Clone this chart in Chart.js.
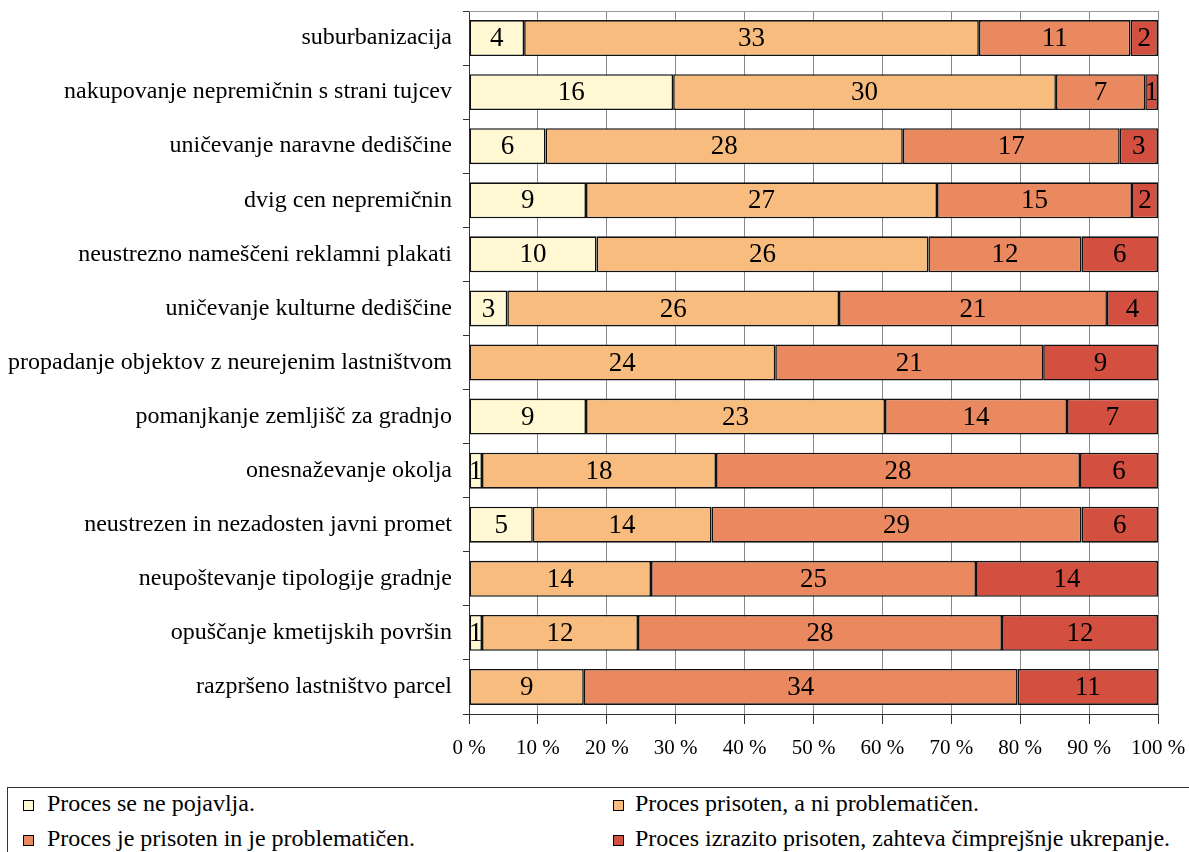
<!DOCTYPE html>
<html>
<head>
<meta charset="utf-8">
<script src="https://cdn.jsdelivr.net/npm/chart.js@4/dist/chart.umd.min.js"></script>
<style>
  html, body { margin: 0; padding: 0; background: #fff; }
  body { width: 1189px; height: 852px; position: relative; overflow: hidden;
         font-family: "Liberation Serif", "Times New Roman", serif; }
  #wrap { position: absolute; left: 0; top: 0; width: 1189px; height: 770px; }
  #legend { position: absolute; left: 7px; top: 787px; width: 1200px; height: 80px;
            border: 1px solid #333; box-sizing: border-box; }
  .sw { position: absolute; width: 9px; height: 9px; border: 1px solid #000; }
  .txt { position: absolute; font-size: 24px; line-height: 24px; color: #000; white-space: nowrap; }
</style>
</head>
<body>
<div id="wrap"><canvas id="c"></canvas></div>
<div id="legend"></div>
<script>
// Categories (top to bottom) and number of answers per response type
const categories = [
  "suburbanizacija",
  "nakupovanje nepremičnin s strani tujcev",
  "uničevanje naravne dediščine",
  "dvig cen nepremičnin",
  "neustrezno nameščeni reklamni plakati",
  "uničevanje kulturne dediščine",
  "propadanje objektov z neurejenim lastništvom",
  "pomanjkanje zemljišč za gradnjo",
  "onesnaževanje okolja",
  "neustrezen in nezadosten javni promet",
  "neupoštevanje tipologije gradnje",
  "opuščanje kmetijskih površin",
  "razpršeno lastništvo parcel"
];
const notPresent      = [4, 16, 6, 9, 10, 3, 0, 9, 1, 5, 0, 1, 0];
const presentOk       = [33, 30, 28, 27, 26, 26, 24, 23, 18, 14, 14, 12, 9];
const problematic     = [11, 7, 17, 15, 12, 21, 21, 14, 28, 29, 25, 28, 34];
const veryProblematic = [2, 1, 3, 2, 6, 4, 9, 7, 6, 6, 14, 12, 11];

const seriesNames = [
  "Proces se ne pojavlja.",
  "Proces prisoten, a ni problematičen.",
  "Proces je prisoten in je problematičen.",
  "Proces izrazito prisoten, zahteva čimprejšnje ukrepanje."
];
const seriesColors = ["#FFF8D2", "#F8BD7E", "#EA895F", "#D35041"];
const xTicks = [0, 10, 20, 30, 40, 50, 60, 70, 80, 90, 100];

const counts = [notPresent, presentOk, problematic, veryProblematic];
const totals = categories.map((_, i) => counts.reduce((s, arr) => s + arr[i], 0));

const FONT = "'Liberation Serif', 'Times New Roman', serif";

const datasets = counts.map((arr, k) => ({
  label: seriesNames[k],
  data: arr.map((v, i) => v / totals[i] * 100),
  raw: arr,
  backgroundColor: seriesColors[k],
  borderColor: "#111",
  borderWidth: 1.6,
  borderSkipped: false,
  categoryPercentage: 0.665,
  barPercentage: 1.0
}));

// Count labels centred in each segment
const valueLabels = {
  id: "valueLabels",
  afterDatasetsDraw(chart) {
    const ctx = chart.ctx;
    ctx.save();
    ctx.font = "27px " + FONT;
    ctx.fillStyle = "#000";
    ctx.textAlign = "center";
    ctx.textBaseline = "middle";
    chart.data.datasets.forEach((ds, k) => {
      const meta = chart.getDatasetMeta(k);
      meta.data.forEach((bar, i) => {
        const v = ds.raw[i];
        if (!v) return;
        const cx = (bar.x + bar.base) / 2;
        ctx.fillText(String(v), cx, bar.y + 1);
      });
    });
    ctx.restore();
  }
};

// Thin grey frame line along the top of the plot area
const topFrame = {
  id: "topFrame",
  beforeDatasetsDraw(chart) {
    const { ctx, chartArea } = chart;
    ctx.save();
    ctx.strokeStyle = "#9a9a9a";
    ctx.lineWidth = 1;
    ctx.beginPath();
    ctx.moveTo(chartArea.left, chartArea.top + 0.5);
    ctx.lineTo(chartArea.right, chartArea.top + 0.5);
    ctx.stroke();
    ctx.restore();
  }
};

new Chart(document.getElementById("c"), {
  type: "bar",
  data: { labels: categories, datasets },
  options: {
    indexAxis: "y",
    responsive: true,
    maintainAspectRatio: false,
    animation: false,
    layout: { padding: { top: 11, right: 31, left: 0, bottom: 0 } },
    plugins: { legend: { display: false }, tooltip: { enabled: false } },
    scales: {
      x: {
        stacked: true,
        min: 0, max: 100,
        afterBuildTicks(scale) { scale.ticks = xTicks.map(v => ({ value: v })); },
        ticks: {
          font: { family: FONT, size: 21 },
          color: "#000",
          padding: 12,
          maxRotation: 0,
          callback: v => v + " %"
        },
        grid: { color: "#8a8a8a", lineWidth: 1, tickLength: 10, tickColor: "#333" },
        border: { color: "#333", width: 1 },
        afterFit(scale) { scale.height = 56; scale.paddingLeft = 0; scale.paddingRight = 0; }
      },
      y: {
        stacked: true,
        ticks: { font: { family: FONT, size: 24 }, color: "#000", padding: 11 },
        grid: { drawOnChartArea: false, tickLength: 6, color: "#333", offset: true },
        border: { color: "#333", width: 1 },
        afterFit(scale) { scale.width = 469; scale.paddingTop = 0; scale.paddingBottom = 0; }
      }
    }
  },
  plugins: [topFrame, valueLabels]
});

// Legend box below the chart
const legend = document.getElementById("legend");
const swPos  = [[15, 12], [605, 12], [15, 47], [605, 47]];
const txtPos = [[39, 3], [627, 3], [39, 38], [627, 38]];
seriesNames.forEach((name, k) => {
  const sw = document.createElement("div");
  sw.className = "sw";
  sw.style.left = swPos[k][0] + "px";
  sw.style.top = swPos[k][1] + "px";
  sw.style.background = seriesColors[k];
  legend.appendChild(sw);
  const t = document.createElement("div");
  t.className = "txt";
  t.style.left = txtPos[k][0] + "px";
  t.style.top = txtPos[k][1] + "px";
  t.textContent = name;
  legend.appendChild(t);
});
</script>
</body>
</html>
